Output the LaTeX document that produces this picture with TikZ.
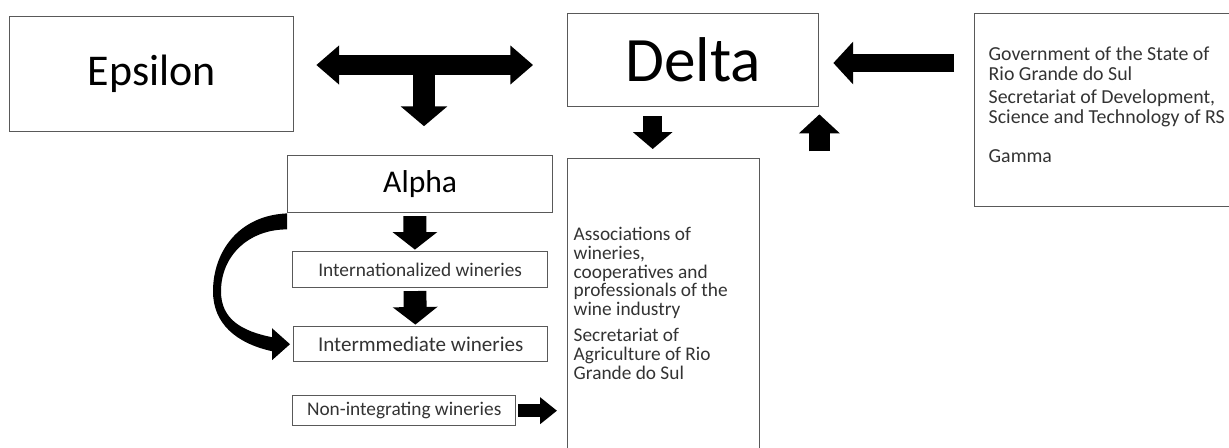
\documentclass[tikz,border=0pt]{standalone}
\usepackage{fontspec}
\setmainfont{Carlito}
\usetikzlibrary{arrows.meta,calc}
\colorlet{box edge}{black!65}
\colorlet{small text}{black!80}
\tikzset{
  box/.style={draw=box edge, line width=0.8pt, rectangle, inner sep=0pt, anchor=north west},
  blockarrow/.style n args={3}{draw=black, line width=#1, -{Triangle[width=#2,length=#3]}}
  }
\tikzstyle{small} = [font=\fontsize{11pt}{10.8pt}\selectfont, text=small text]

\begin{document}
\begin{tikzpicture}[x=0.02cm, y=-0.02cm]
    \useasboundingbox (0,0) rectangle (1229,447);

    % The top row
    \node[box, minimum width=5.68cm, minimum height=2.3cm, font=\fontsize{25pt}{30pt}\selectfont] (epsilon) at (9,16) {Epsilon};
    \node[box, minimum width=5.02cm, minimum height=1.86cm, font=\fontsize{36pt}{40pt}\selectfont] (delta) at (567,13) {Delta};
    \node[box, small, font=\fontsize{11.3pt}{11.3pt}\selectfont] (gov) at (974,13) {\begin{minipage}[t][3.86cm][t]{5.32cm}
      \vspace*{0.66cm}\raggedright\leftskip=0.28cm
      Government of the State of\\ Rio Grande do Sul\par
      \vspace{2pt}
      Secretariat of Development,\\ Science and Technology of RS\par
      \vspace{11pt}
      Gamma
    \end{minipage}};

    % The wineries
    \node[box, minimum width=5.3cm, minimum height=1.14cm, font=\fontsize{18pt}{20pt}\selectfont] (alpha) at (287,155) {Alpha};
    \node[box, small, minimum width=5.1cm, minimum height=0.72cm] (intl) at (292,251) {Internationalized wineries};
    \node[box, small, minimum width=5.08cm, minimum height=0.7cm, font=\fontsize{12pt}{12pt}\selectfont] (interm) at (293,326) {Intermmediate wineries};
    \node[box, small, minimum width=4.46cm, minimum height=0.6cm] (nonint) at (292,395) {Non-integrating wineries};

    % The associations
    \node[box, small] (assoc) at (567,158) {\begin{minipage}[t][6.04cm][t]{3.84cm}
      \vspace*{1.36cm}\raggedright\leftskip=0.12cm
      Associations of\\ wineries,\\ cooperatives and\\ professionals of the\\ wine industry\par
      \vspace{4pt}
      Secretariat of\\ Agriculture of Rio\\ Grande do Sul
    \end{minipage}};

    % The T arrow between Epsilon, Delta and Alpha
    \coordinate (hub) at (424,65);
    \draw[blockarrow={11.3pt}{21.5pt}{13pt}, shorten >=12.5pt] (hub) -- (epsilon.east |- hub);
    \draw[blockarrow={11.3pt}{21.5pt}{13pt}, shorten >=19.3pt] (hub) -- (delta.west |- hub);
    \draw[blockarrow={12.5pt}{26pt}{11.3pt}, shorten >=16.4pt] (hub) -- (alpha.north -| hub);

    % Arrows round Delta
    \draw[blockarrow={10.2pt}{23.8pt}{11.3pt}] ($(gov.north west)+(-20,50)$) -- ($(delta.north east)+(14,50)$);
    \draw[blockarrow={10.8pt}{22pt}{9.6pt}] ($(delta.south -| assoc.north)+(-11,9)$) -- ($(assoc.north)+(-11,-9)$);
    \draw[blockarrow={11.9pt}{22.7pt}{10.8pt}] ($(delta.south east)+(0,44)$) -- ($(delta.south east)+(0,7)$);

    % Down the chain of wineries
    \foreach \src/\dst in {alpha/intl, intl/interm}
      \draw[blockarrow={13pt}{25pt}{10pt}, shorten <=1.5pt, shorten >=0.8pt] ([xshift=-3pt]\src.south) -- ([xshift=-3pt]\dst.north);
    \draw[blockarrow={7.4pt}{14.7pt}{9.6pt}, shorten <=1pt, shorten >=5.7pt] (nonint.east) -- (nonint.east -| assoc.west);

    % The curved arrow from Alpha to the intermediate wineries
    \fill (alpha.south west)
      .. controls ($(alpha.south west)+(-48,2)$) and ($(alpha.south west)+(-74,38)$) .. ($(alpha.south west)+(-74,78)$)
      .. controls ($(alpha.south west)+(-74,110)$) and ($(interm.west)+(-57,-1)$) .. ($(interm.west)+(-21,7)$)
      -- ($(interm.west)+(-21,16)$)
      -- ($(interm.west)+(-3,0)$)
      -- ($(interm.west)+(-21,-16)$)
      -- ($(interm.west)+(-21,-7)$)
      .. controls ($(interm.west)+(-51,-13)$) and ($(alpha.south west)+(-66,106)$) .. ($(alpha.south west)+(-66,78)$)
      .. controls ($(alpha.south west)+(-66,42)$) and ($(alpha.south west)+(-38,16)$) .. ($(alpha.south west)+(0,16)$)
      -- cycle;
\end{tikzpicture}
\end{document}
